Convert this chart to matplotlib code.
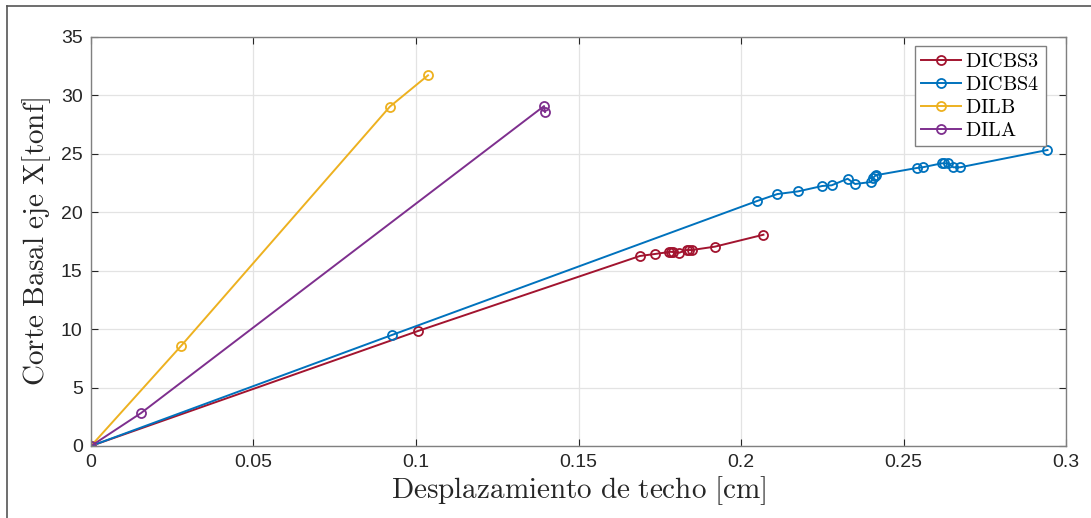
import matplotlib.pyplot as plt
from matplotlib.lines import Line2D

plt.rcParams['font.family'] = ['Liberation Sans', 'DejaVu Sans']
plt.rcParams['mathtext.fontset'] = 'cm'

# Desplazamiento de techo [cm] y corte basal [tonf]
dicbs3_x = [0, 0.1006, 0.1689, 0.1735, 0.1779, 0.1784, 0.1790, 0.1810, 0.1833, 0.1841, 0.1849, 0.1920, 0.2069]
dicbs3_y = [0, 9.84, 16.26, 16.43, 16.60, 16.62, 16.60, 16.54, 16.77, 16.77, 16.77, 17.06, 18.08]

dicbs4_x = [0, 0.0926, 0.2048, 0.2112, 0.2176, 0.2250, 0.2279, 0.2328, 0.2351, 0.2400, 0.2407,
            0.2412, 0.2415, 0.2541, 0.2559, 0.2618, 0.2626, 0.2638, 0.2653, 0.2674, 0.2943]
dicbs4_y = [0, 9.50, 20.95, 21.56, 21.79, 22.25, 22.31, 22.87, 22.42, 22.59, 22.96,
            23.10, 23.17, 23.79, 23.85, 24.19, 24.19, 24.19, 23.85, 23.85, 25.33]

dilb_x = [0, 0.0277, 0.0920, 0.1037]
dilb_y = [0, 8.56, 29.05, 31.72]

dila_x = [0, 0.0154, 0.1394, 0.1397]
dila_y = [0, 2.82, 29.09, 28.58]

series = [
    ("DICBS3", dicbs3_x, dicbs3_y, "#A2142F"),
    ("DICBS4", dicbs4_x, dicbs4_y, "#0072BD"),
    ("DILB", dilb_x, dilb_y, "#EDB120"),
    ("DILA", dila_x, dila_y, "#7E2F8E"),
]

fig = plt.figure(figsize=(10.91, 5.18), dpi=100)
ax = fig.add_axes([0.0834, 0.139, 0.8937, 0.7896])

for name, xs, ys, col in series:
    ax.plot(xs, ys, color=col, lw=1.4, marker='o', ms=6.5, mfc='none', mew=1.3,
            label=r'$\mathrm{' + name + '}$')

ax.set_xlim(0, 0.3)
ax.set_ylim(0, 35)
ax.set_xticks([0, 0.05, 0.1, 0.15, 0.2, 0.25, 0.3])
ax.set_xticklabels(['0', '0.05', '0.1', '0.15', '0.2', '0.25', '0.3'])
ax.set_yticks(range(0, 36, 5))
ax.grid(True, color='#e3e3e3', lw=0.9)
ax.set_axisbelow(True)
ax.tick_params(direction='in', length=5, labelsize=14, colors='#262626', top=True, right=True,
               pad=6)
for s in ax.spines.values():
    s.set_color('#808080')
    s.set_linewidth(1.0)

ax.set_xlabel(r'$\mathrm{Desplazamiento\ de\ techo\ [cm]}$', fontsize=21, color='#262626', labelpad=2)
ax.set_ylabel(r'$\mathrm{Corte\ Basal\ eje\ X[tonf]}$', fontsize=21, color='#262626', labelpad=6)

leg = ax.legend(loc='upper right', fontsize=14.5, frameon=True, fancybox=False,
                edgecolor='#808080', framealpha=1, handlelength=2.0, borderpad=0.3,
                labelspacing=0.2, handletextpad=0.2, borderaxespad=0,
                bbox_to_anchor=(0.979, 0.979))
leg.get_frame().set_linewidth(1.0)

# marco de la captura
fig.add_artist(Line2D([7 / 1091, 1], [1 - 6 / 518, 1 - 6 / 518], color='#555555', lw=1.2,
                      transform=fig.transFigure))
fig.add_artist(Line2D([7 / 1091, 7 / 1091], [0, 1 - 6 / 518], color='#555555', lw=1.2,
                      transform=fig.transFigure))

fig.savefig('out.png', dpi=100)
